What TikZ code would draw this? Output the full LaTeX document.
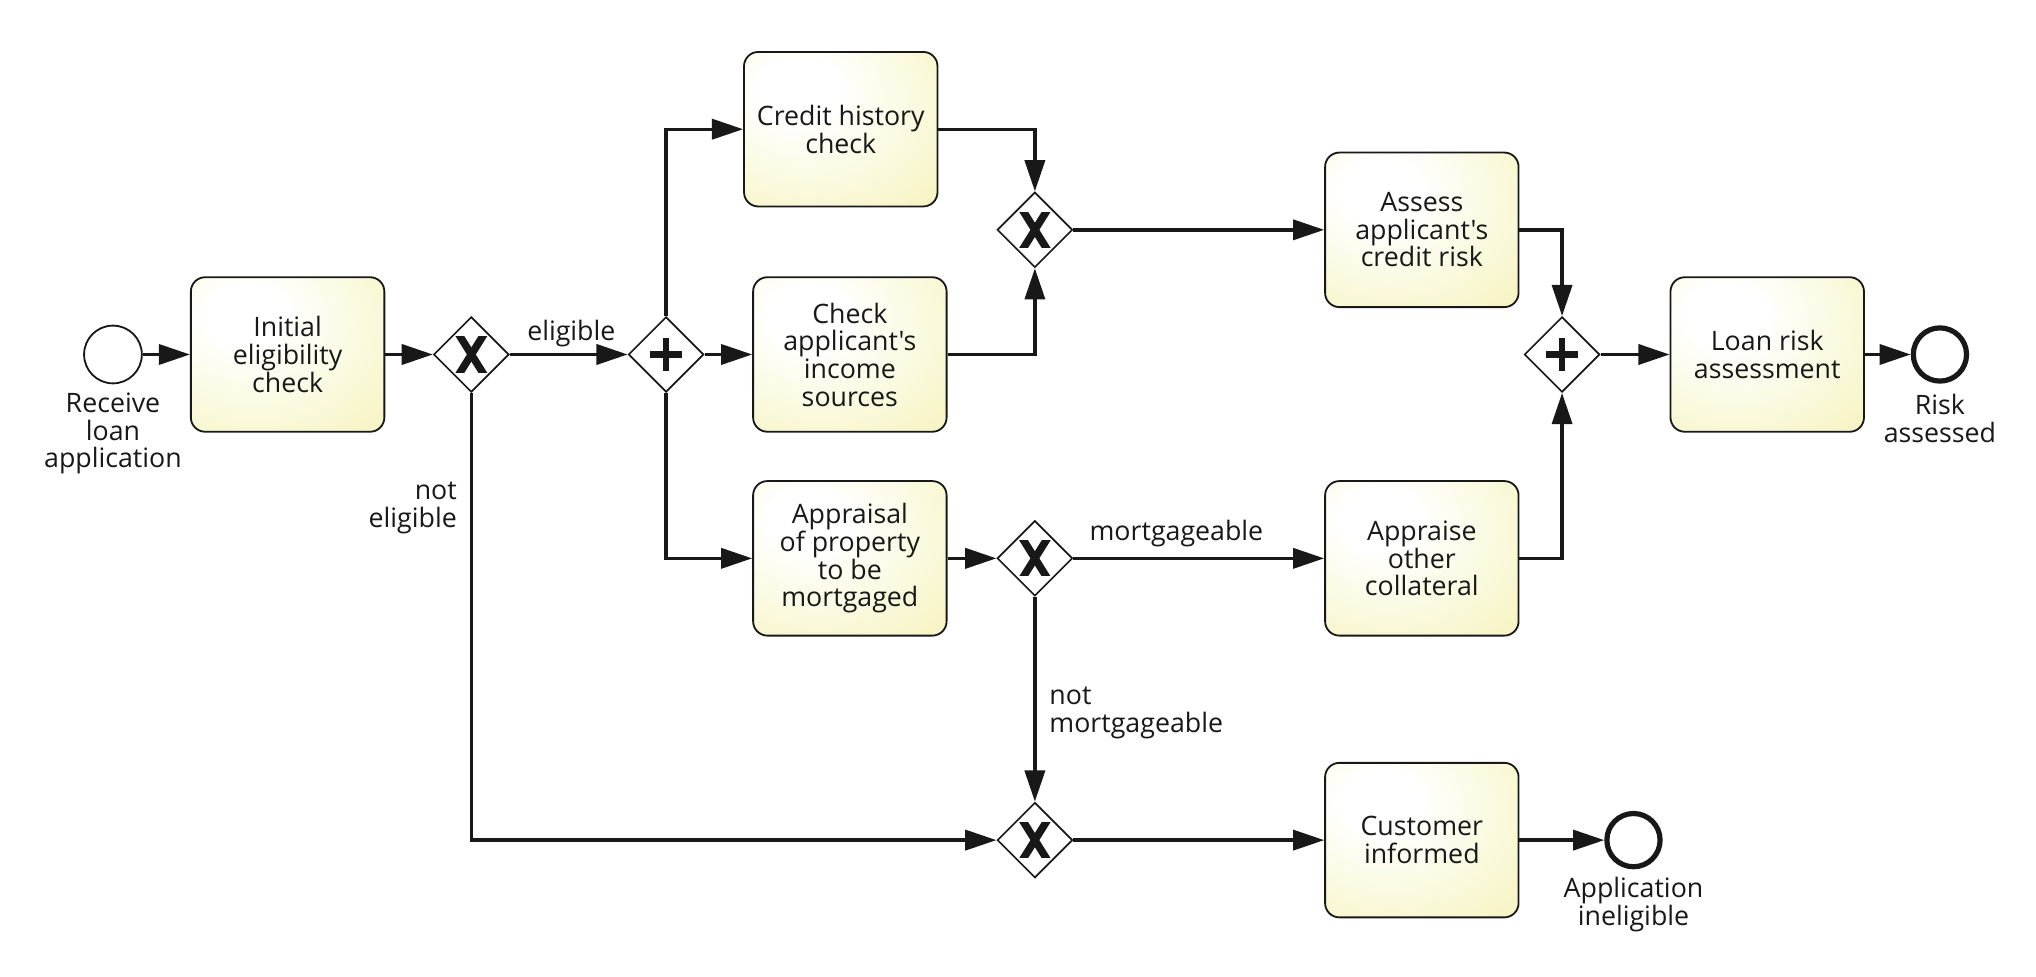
\documentclass[tikz,border=0pt]{standalone}
\usepackage{fontspec}
\setmainfont{Open Sans}[Ligatures=TeXOff]
\usetikzlibrary{shapes.geometric,arrows.meta}
\definecolor{tasky}{RGB}{247,245,198}
\definecolor{ink}{RGB}{24,24,24}
\pgfdeclareradialshading{taskshade}{\pgfpoint{-12bp}{14bp}}{color(0bp)=(white); color(10bp)=(white); color(42bp)=(tasky); color(100bp)=(tasky)}
\newcommand\bpfont{\fontsize{20.6}{21.3}\selectfont}
\newcommand\gwx[1]{%
  \begin{scope}
    \clip ([shift={(-15,-13.5)}]#1.center) rectangle ([shift={(15,13.5)}]#1.center);
    \draw[ink,line width=5.8pt] ([shift={(-10,-16)}]#1.center) -- ([shift={(10,16)}]#1.center);
    \draw[ink,line width=5.8pt] ([shift={(-10,16)}]#1.center) -- ([shift={(10,-16)}]#1.center);
  \end{scope}}
\newcommand\gwp[1]{%
  \draw[ink,line width=5pt] ([shift={(-12.5,0)}]#1.center) -- ([shift={(12.5,0)}]#1.center);
  \draw[ink,line width=5pt] ([shift={(0,-12.5)}]#1.center) -- ([shift={(0,12.5)}]#1.center);}
\tikzset{
  task/.style={rectangle, rounded corners=11pt, draw=ink, line width=1.4pt, shade, shading=taskshade,
    minimum width=149pt, minimum height=119pt, inner sep=0pt, align=center, font=\bpfont, text=ink},
  gw/.style={diamond, draw=ink, line width=1.3pt, fill=white, minimum width=58pt, minimum height=58pt, inner sep=0pt},
  startev/.style={circle, draw=ink, line width=1.4pt, fill=white, minimum size=44.5pt, inner sep=0pt},
  endev/.style={circle, draw=ink, line width=4pt, fill=white, minimum size=41pt, inner sep=0pt},
  flow/.style={draw=ink, line width=2.6pt, -{Triangle[length=24pt,width=15.5pt]}},
  lab/.style={font=\bpfont, text=ink, inner sep=0pt}
}
\begin{document}
\begin{tikzpicture}[x=1pt,y=-1pt]
\useasboundingbox (0,0) rectangle (1568,752.4);
% nodes
\node[startev] (start) at (87,273) {};
\node[task] (t1) at (221.5,273) {Initial\\eligibility\\check};
\node[gw] (x1) at (363,273) {};
\node[gw] (p1) at (513,273) {};
\node[task] (credit) at (647.5,99.5) {Credit history\\check};
\node[task] (income) at (654.5,273) {Check\\applicant's\\income\\sources};
\node[task] (appr) at (654.5,430) {Appraisal\\of property\\to be\\mortgaged};
\node[gw] (x2) at (797,177) {};
\node[gw] (x3) at (797,430) {};
\node[gw] (x4) at (797,647) {};
\node[task] (assess) at (1095,177) {Assess\\applicant's\\credit risk};
\node[task] (other) at (1095,430) {Appraise\\other\\collateral};
\node[task] (cust) at (1095,647) {Customer\\informed};
\node[gw] (p2) at (1203,273) {};
\node[task] (loan) at (1361,273) {Loan risk\\assessment};
\node[endev] (endr) at (1494,273) {};
\node[endev] (endi) at (1258,647) {};
% markers
\gwx{x1}\gwx{x2}\gwx{x3}\gwx{x4}
\gwp{p1}\gwp{p2}
% labels
\node[lab, align=center] (lstart) at (87,334) {Receive\\loan\\application};
\node[lab, align=center] (lendr) at (1494,322.5) {Risk\\assessed};
\node[lab, align=center] (lendi) at (1258,696.5) {Application\\ineligible};
\node[lab] (lelig) at (440,257) {eligible};
\node[lab, align=right, anchor=east] (lnotelig) at (352,391) {not\\eligible};
\node[lab] (lmort) at (906,411) {mortgageable};
\node[lab, align=left, anchor=west] (lnotmort) at (808,549) {not\\mortgageable};
% flows
\draw[flow] (start) -- (t1);
\draw[flow] (t1) -- (x1);
\draw[flow] (x1) -- (p1);
\draw[flow] (x1.south) |- (x4.west);
\draw[flow] (p1.north) |- (credit.west);
\draw[flow] (p1) -- (income);
\draw[flow] (p1.south) |- (appr.west);
\draw[flow] (credit.east) -| (x2.north);
\draw[flow] (income.east) -| (x2.south);
\draw[flow] (x2) -- (assess);
\draw[flow] (assess.east) -| (p2.north);
\draw[flow] (appr) -- (x3);
\draw[flow] (x3) -- (other);
\draw[flow] (other.east) -| (p2.south);
\draw[flow] (p2) -- (loan);
\draw[flow] (loan) -- (endr);
\draw[flow] (x3.south) -- (x4.north);
\draw[flow] (x4) -- (cust);
\draw[flow] (cust) -- (endi);
\end{tikzpicture}
\end{document}
